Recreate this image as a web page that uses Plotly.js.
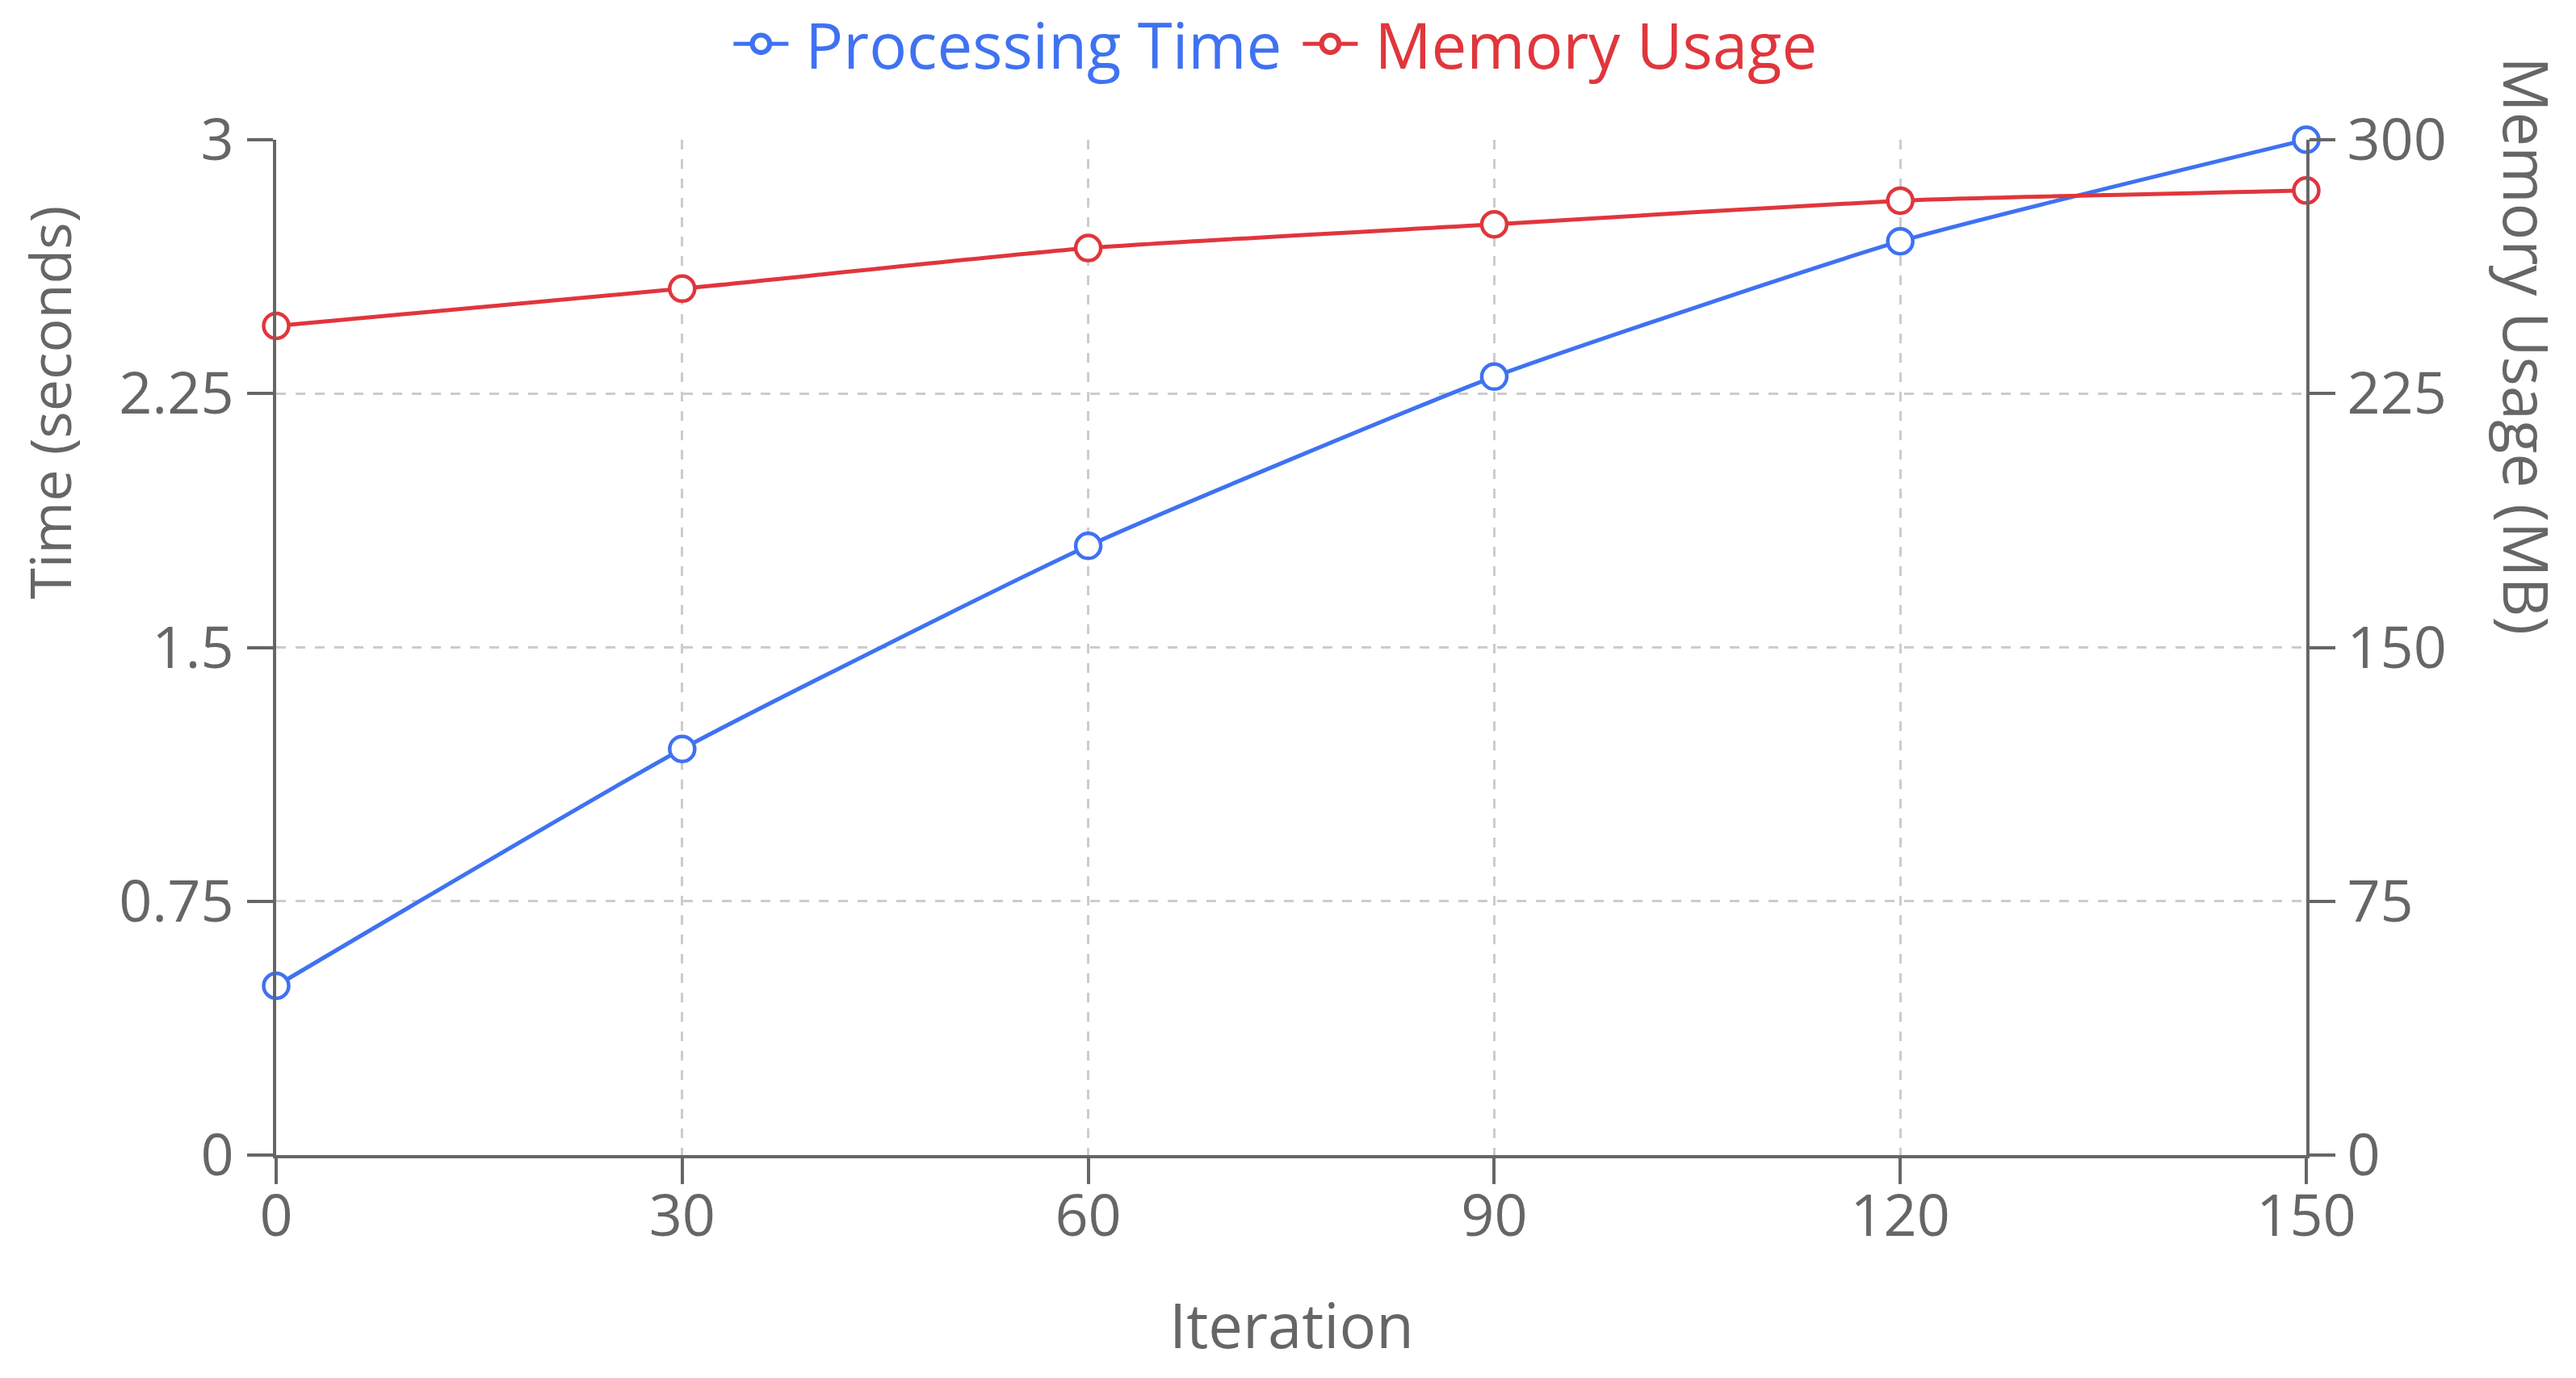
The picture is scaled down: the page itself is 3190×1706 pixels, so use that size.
<!DOCTYPE html>
<html>
<head>
<meta charset="utf-8">
<script src="https://cdn.plot.ly/plotly-3.0.1.min.js"></script>
<style>
  html, body { margin: 0; padding: 0; background: #fff; }
  #chart { width: 3190px; height: 1706px; }
</style>
</head>
<body>
<div id="chart"></div>
<script>
const iterations = [0, 30, 60, 90, 120, 150];
const processingTime = [0.5, 1.2, 1.8, 2.3, 2.7, 3.0];
const memoryUsage = [245, 256, 268, 275, 282, 285];

const timeTicks = [0, 0.75, 1.5, 2.25, 3];
const timeTickText = ["0", "0.75", "1.5", "2.25", "3"];
const memTicks = [0, 75, 150, 225, 300];
const iterTicks = [0, 30, 60, 90, 120, 150];

const blue = "#3f72f2";
const red = "#e0363c";
const gray = "#666666";
const font = "Open Sans, Noto Sans, sans-serif";

const traceTime = {
    x: iterations,
    y: processingTime,
    name: "Processing Time",
    mode: "lines+markers",
    line: { color: blue, width: 5, shape: "spline", smoothing: 0.5 },
    marker: { symbol: "circle", size: 31, color: "#ffffff", line: { color: blue, width: 4.5 } },
    cliponaxis: false,
    yaxis: "y"
};

const traceMem = {
    x: iterations,
    y: memoryUsage,
    name: "Memory Usage",
    mode: "lines+markers",
    line: { color: red, width: 5, shape: "spline", smoothing: 0.5 },
    marker: { symbol: "circle", size: 31, color: "#ffffff", line: { color: red, width: 4.5 } },
    cliponaxis: false,
    yaxis: "y2"
};

const axisCommon = {
    showline: true,
    linecolor: gray,
    linewidth: 4,
    ticks: "outside",
    ticklen: 32,
    tickwidth: 4,
    tickcolor: gray,
    tickfont: { family: font, size: 72, color: gray },
    zeroline: false,
    fixedrange: true
};

const layout = {
    width: 3190,
    height: 1706,
    margin: { l: 342, r: 334, t: 173, b: 276 },
    paper_bgcolor: "#ffffff",
    plot_bgcolor: "#ffffff",
    font: { family: font, color: gray },
    showlegend: true,
    legend: {
        orientation: "h",
        x: 0.489,
        xanchor: "center",
        yref: "container",
        y: 0.968,
        yanchor: "middle",
        font: { family: font, size: 78 },
        itemwidth: 100
    },
    xaxis: Object.assign({}, axisCommon, {
        range: [0, 150],
        tickvals: iterTicks,
        showgrid: true,
        gridcolor: "#cccccc",
        gridwidth: 3,
        griddash: "12px,12px",
        ticklabelstandoff: -22
    }),
    yaxis: Object.assign({}, axisCommon, {
        range: [0, 3],
        tickvals: timeTicks,
        ticktext: timeTickText,
        showgrid: true,
        gridcolor: "#cccccc",
        gridwidth: 3,
        griddash: "12px,12px",
        ticklabelstandoff: 2
    }),
    yaxis2: Object.assign({}, axisCommon, {
        range: [0, 300],
        tickvals: memTicks,
        overlaying: "y",
        side: "right",
        showgrid: false,
        ticklabelstandoff: 0
    }),
    annotations: [
        {
            text: "Time (seconds)",
            xref: "paper", yref: "paper",
            x: -0.1118, y: 0.7415,
            xanchor: "center", yanchor: "middle",
            textangle: -90, showarrow: false,
            font: { family: font, size: 70, color: gray }
        },
        {
            text: "Memory Usage (MB)",
            xref: "paper", yref: "paper",
            x: 1.109, y: 0.797,
            xanchor: "center", yanchor: "middle",
            textangle: 90, showarrow: false,
            font: { family: font, size: 76, color: gray }
        },
        {
            text: "Iteration",
            xref: "paper", yref: "paper",
            x: 0.5, y: -0.167,
            xanchor: "center", yanchor: "middle",
            showarrow: false,
            font: { family: font, size: 76, color: gray }
        }
    ]
};

Plotly.newPlot("chart", [traceTime, traceMem], layout, { displayModeBar: false, staticPlot: true }).then(function() {
    // legend: colour the text, widen the line sample and enlarge the marker
    const colors = [blue, red];
    document.querySelectorAll(".legend .traces").forEach(function(item, i) {
        const txt = item.querySelector(".legendtext");
        if (txt) txt.style.fill = colors[i];
        const pt = item.querySelector(".legendpoints path");
        let cx = 20;
        if (pt) {
            const tr = pt.getAttribute("transform") || "";
            const m = tr.match(/translate\(\s*([-\d.]+)/);
            if (m) cx = parseFloat(m[1]);
            pt.setAttribute("transform", "translate(" + cx + ",0) scale(1.35)");
        }
        const ln = item.querySelector(".legendlines path");
        if (ln) ln.setAttribute("d", "M" + (cx - 34) + ",0h68");
    });
});
</script>
</body>
</html>
